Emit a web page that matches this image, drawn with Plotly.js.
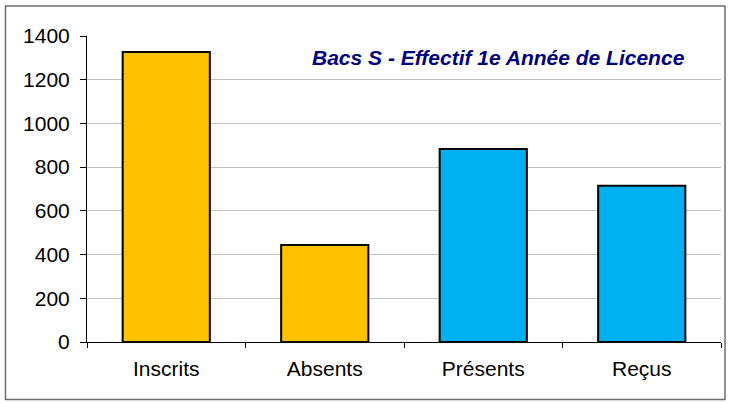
<!DOCTYPE html>
<html>
<head>
<meta charset="utf-8">
<script src="https://cdn.plot.ly/plotly-3.0.1.min.js"></script>
<style>html,body{margin:0;padding:0;background:#fff;}#chart{width:729px;height:403px;}</style>
</head>
<body>
<div id="chart"></div>
<script>
const categories = ["Inscrits", "Absents", "Présents", "Reçus"];
const values = [1327, 444, 883, 715];
const barColors = ["#FFC000", "#FFC000", "#00B0F0", "#00B0F0"];
const yTicks = [0, 200, 400, 600, 800, 1000, 1200, 1400];
const chartTitle = "Bacs S - Effectif 1e Année de Licence";

const font = "Liberation Sans, Arial, sans-serif";
const L = 87, R = 8, T = 36, B = 61, W = 729, H = 403;
const pw = W - L - R, ph = H - T - B;
const px = x => (x - L) / pw;
const py = y => (H - B - y) / ph;

Plotly.newPlot("chart", [{
  type: "bar",
  x: categories,
  y: values,
  marker: {color: barColors, line: {color: "#000", width: 2}},
  hoverinfo: "none"
}], {
  width: W, height: H,
  margin: {l: L, r: R, t: T, b: B, pad: 0},
  paper_bgcolor: "#fff", plot_bgcolor: "#fff",
  bargap: 0.45,
  showlegend: false,
  font: {family: font, size: 21, color: "#000"},
  xaxis: {
    type: "category",
    tickson: "boundaries",
    ticks: "outside", ticklen: 5, tickcolor: "#000", tickwidth: 1,
    ticklabelstandoff: 8,
    showline: true, linecolor: "#000", linewidth: 1,
    showgrid: false, zeroline: false,
    tickfont: {family: font, size: 21, color: "#000"}
  },
  yaxis: {
    range: [0, 1400],
    tickvals: yTicks,
    ticktext: yTicks.map(String),
    ticks: "outside", ticklen: 6, tickcolor: "#000", tickwidth: 1,
    ticklabelstandoff: 6,
    showline: true, linecolor: "#000", linewidth: 1,
    showgrid: true, gridcolor: "#c0c0c0", gridwidth: 1,
    zeroline: false,
    tickfont: {family: font, size: 21, color: "#000"}
  },
  annotations: [{
    text: "<b><i>" + chartTitle + "</i></b>",
    xref: "paper", yref: "paper",
    x: px(498.5), y: py(58),
    xanchor: "center", yanchor: "middle",
    showarrow: false,
    font: {family: font, size: 21, color: "#000080"}
  }],
  shapes: [{
    type: "rect", xref: "paper", yref: "paper",
    x0: px(5.5), x1: px(725), y0: py(399.5), y1: py(6),
    line: {color: "#6e6e6e", width: 1.5},
    fillcolor: "rgba(0,0,0,0)", layer: "below"
  }]
}, {staticPlot: true, displayModeBar: false});
</script>
</body>
</html>
